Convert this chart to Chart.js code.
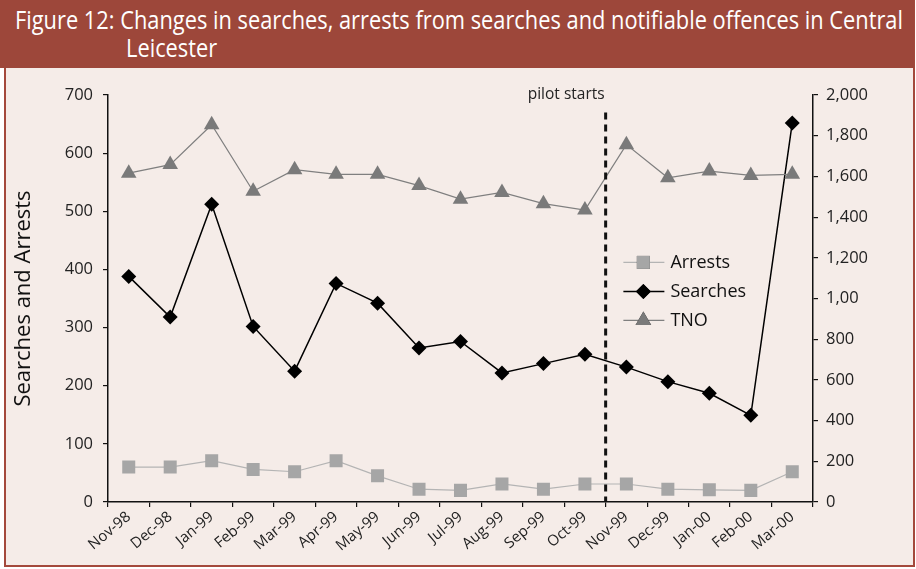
<!DOCTYPE html>
<html>
<head>
<meta charset="utf-8">
<title>Figure 12</title>
<script src="https://cdn.jsdelivr.net/npm/chart.js@4/dist/chart.umd.min.js"></script>
<style>
    html, body { margin: 0; padding: 0; background: #fff; }
    body { width: 916px; height: 569px; position: relative; overflow: hidden; }
    .frame {
        position: absolute; left: 4px; top: 0; width: 907px; height: 565px;
        border: 2px solid #a4493c; border-top: none;
        background: #f5ece8;
    }
    .bar {
        position: absolute; left: 0; top: 0; width: 914px; height: 68px;
        background: #9d473a;
    }
    .line {
        position: absolute; color: #fff; white-space: nowrap;
        font-family: "Open Sans", sans-serif; font-size: 25px; line-height: 28px;
        transform-origin: 0 0;
    }
    #chartBox { position: absolute; left: 0; top: 0; width: 916px; height: 569px; }
</style>
</head>
<body>
<div class="frame"></div>
<div class="bar">
    <div class="line" id="t1" style="left:15px; top:5px;">Figure 12: Changes in searches, arrests from searches and notifiable offences in Central</div>
    <div class="line" id="t2" style="left:126px; top:33px;">Leicester</div>
</div>
<div id="chartBox"><canvas id="chart"></canvas></div>

<script>
// -------------------------------
// DATA
// -------------------------------
const months = ["Nov-98", "Dec-98", "Jan-99", "Feb-99", "Mar-99", "Apr-99", "May-99", "Jun-99",
    "Jul-99", "Aug-99", "Sep-99", "Oct-99", "Nov-99", "Dec-99", "Jan-00", "Feb-00", "Mar-00"];

const arrests = [60, 60, 71, 56, 52, 71, 45, 22, 20, 31, 22, 31, 31, 22, 21, 20, 52];
const searches = [388, 318, 512, 302, 225, 376, 342, 265, 276, 222, 238, 254, 232, 207, 187, 149, 652];
const tno = [1616, 1658, 1854, 1527, 1633, 1610, 1610, 1555, 1488, 1521, 1466, 1435, 1756, 1593, 1626, 1605, 1610];

// right axis labels as printed (the 1,000 label is short a zero)
const tnoTickLabels = ["0", "200", "400", "600", "800", "1,00", "1,200", "1,400", "1,600", "1,800", "2,000"];

const pilotAfter = "Oct-99";   // pilot begins after this month
const pilotLabel = "pilot starts";

const FONT = "'Open Sans', 'DejaVu Sans', sans-serif";

// -------------------------------
// TITLE: squeeze to a condensed look
// -------------------------------
const t1 = document.getElementById("t1");
const t2 = document.getElementById("t2");
const squeeze = 888 / t1.getBoundingClientRect().width;
t1.style.transform = `scaleX(${squeeze})`;
t2.style.transform = `scaleX(${squeeze})`;

// -------------------------------
// PLUGINS
// -------------------------------
const pilotLine = {
    id: "pilotLine",
    afterDatasetsDraw(chart) {
        const { ctx, chartArea, scales } = chart;
        const i = months.indexOf(pilotAfter);
        const x = (scales.x.getPixelForValue(i) + scales.x.getPixelForValue(i + 1)) / 2;
        const top = scales.y.getPixelForValue(670);
        ctx.save();
        ctx.strokeStyle = "#111";
        ctx.lineWidth = 3;
        ctx.setLineDash([7, 5]);
        ctx.beginPath();
        ctx.moveTo(x, top);
        ctx.lineTo(x, chartArea.bottom);
        ctx.stroke();
        ctx.setLineDash([]);
        ctx.fillStyle = "#222";
        ctx.font = "15.5px " + FONT;
        ctx.textAlign = "right";
        ctx.textBaseline = "middle";
        ctx.fillText(pilotLabel, x - 1, scales.y.getPixelForValue(700));
        ctx.restore();
    }
};

const boxLegend = {
    id: "boxLegend",
    afterDraw(chart) {
        const { ctx, scales } = chart;
        const order = [2, 1, 0]; // Arrests, Searches, TNO
        const x0 = scales.x.getPixelForValue(12) - 3;
        let y = scales.y.getPixelForValue(400) - 7;
        ctx.save();
        order.forEach(idx => {
            const ds = chart.data.datasets[idx];
            ctx.strokeStyle = ds.borderColor;
            ctx.lineWidth = ds.borderWidth;
            ctx.beginPath();
            ctx.moveTo(x0, y);
            ctx.lineTo(x0 + 41, y);
            ctx.stroke();
            Chart.helpers.drawPoint(ctx, {
                pointStyle: ds.pointStyle,
                radius: ds.pointRadius,
                borderWidth: 0
            }, x0 + 20, y);
            ctx.fillStyle = ds.pointBackgroundColor;
            ctx.fill();
            ctx.fillStyle = "#111";
            ctx.font = "18px " + FONT;
            ctx.textAlign = "left";
            ctx.textBaseline = "middle";
            ctx.fillText(ds.label, x0 + 47, y);
            y += 29;
        });
        ctx.restore();
    }
};

// -------------------------------
// CHART
// -------------------------------
const axisGrid = {
    drawOnChartArea: false,
    drawTicks: true,
    tickLength: 5,
    color: "#111",
    lineWidth: 1.2
};
const axisBorder = { display: true, color: "#111", width: 1.5 };

new Chart(document.getElementById("chart"), {
    type: "line",
    data: {
        labels: months,
        datasets: [
            {
                label: "TNO",
                data: tno,
                yAxisID: "y2",
                borderColor: "#7f7f7f",
                borderWidth: 1.2,
                pointStyle: "triangle",
                pointRadius: 9,
                pointBackgroundColor: "#7a7a7a",
                pointBorderWidth: 0
            },
            {
                label: "Searches",
                data: searches,
                yAxisID: "y",
                borderColor: "#000",
                borderWidth: 1.5,
                pointStyle: "rectRot",
                pointRadius: 7.5,
                pointBackgroundColor: "#000",
                pointBorderWidth: 0
            },
            {
                label: "Arrests",
                data: arrests,
                yAxisID: "y",
                borderColor: "#b4b4b4",
                borderWidth: 1.2,
                pointStyle: "rect",
                pointRadius: 9.2,
                pointBackgroundColor: "#a6a6a6",
                pointBorderWidth: 0
            }
        ]
    },
    options: {
        responsive: true,
        maintainAspectRatio: false,
        animation: false,
        events: [],
        layout: { padding: { left: 11, top: 95, right: 0, bottom: 0 } },
        plugins: {
            legend: { display: false },
            tooltip: { enabled: false }
        },
        scales: {
            x: {
                offset: true,
                grid: { ...axisGrid, offset: true },
                border: axisBorder,
                ticks: {
                    color: "#222",
                    font: { family: FONT, size: 15 },
                    minRotation: 40,
                    maxRotation: 40,
                    padding: 1,
                    autoSkip: false
                },
                afterFit(scale) { scale.height = 67; }
            },
            y: {
                position: "left",
                min: 0,
                max: 700,
                grid: axisGrid,
                border: axisBorder,
                ticks: {
                    stepSize: 100,
                    color: "#222",
                    font: { family: FONT, size: 16.5 },
                    padding: 10
                },
                title: {
                    display: true,
                    text: "Searches and Arrests",
                    color: "#111",
                    font: { family: FONT, size: 22 },
                    padding: { top: 0, bottom: 0 }
                },
                afterFit(scale) { scale.width = 97; }
            },
            y2: {
                position: "right",
                min: 0,
                max: 2000,
                grid: axisGrid,
                border: axisBorder,
                ticks: {
                    stepSize: 200,
                    color: "#222",
                    font: { family: FONT, size: 16.5 },
                    padding: 8,
                    callback: (v, i) => tnoTickLabels[i]
                },
                afterFit(scale) { scale.width = 103; }
            }
        }
    },
    plugins: [pilotLine, boxLegend]
});
</script>
</body>
</html>
